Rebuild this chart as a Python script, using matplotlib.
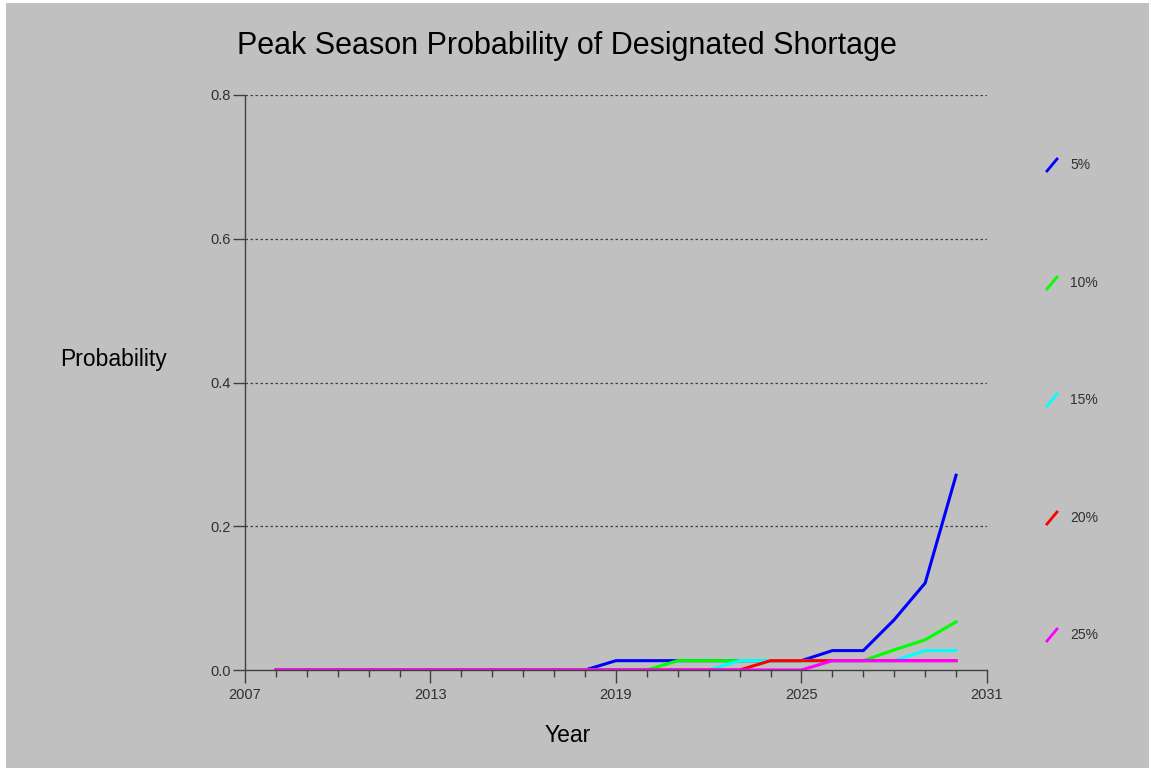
import numpy as np
import matplotlib.pyplot as plt
from matplotlib.lines import Line2D
import matplotlib.patches as mpatches

plt.rcParams['font.family'] = ['Liberation Sans', 'DejaVu Sans']

# data
years = np.arange(2008, 2031)
series_labels = ['5%', '10%', '15%', '20%', '25%']
series_colors = ['#0000ff', '#00ff00', '#00ffff', '#ff0000', '#ff00ff']

p5 = [0, 0, 0, 0, 0, 0, 0, 0, 0, 0, 0, 0.013, 0.013, 0.013, 0.013, 0.013, 0.013, 0.013,
      0.027, 0.027, 0.070, 0.121, 0.271]
p10 = [0, 0, 0, 0, 0, 0, 0, 0, 0, 0, 0, 0, 0, 0.013, 0.013, 0.013, 0.013, 0.013,
       0.013, 0.013, 0.028, 0.042, 0.067]
p15 = [0, 0, 0, 0, 0, 0, 0, 0, 0, 0, 0, 0, 0, 0, 0, 0.013, 0.013, 0.013,
       0.013, 0.013, 0.013, 0.027, 0.027]
p20 = [0, 0, 0, 0, 0, 0, 0, 0, 0, 0, 0, 0, 0, 0, 0, 0, 0.013, 0.013,
       0.013, 0.013, 0.013, 0.013, 0.013]
p25 = [0, 0, 0, 0, 0, 0, 0, 0, 0, 0, 0, 0, 0, 0, 0, 0, 0, 0,
       0.013, 0.013, 0.013, 0.013, 0.013]
all_series = [p5, p10, p15, p20, p25]

bg = '#c0c0c0'
fig = plt.figure(figsize=(11.51, 7.68), dpi=100, facecolor='white')
# gray panel with thin white border at top/left
fig.patches.append(mpatches.Rectangle((6 / 1151, 0), 1143 / 1151, 765 / 768,
                                      transform=fig.transFigure, facecolor=bg,
                                      edgecolor='none', zorder=-10))

ax = fig.add_axes([245 / 1151, 1 - 670 / 768, 742 / 1151, 575 / 768])
ax.set_facecolor(bg)

for vals, col in zip(all_series, series_colors):
    ax.plot(years, vals, color=col, linewidth=2.2, solid_joinstyle='miter')

ax.set_xlim(2007, 2031)
ax.set_ylim(0, 0.8)
ax.set_xticks([2007, 2013, 2019, 2025, 2031])
ax.set_xticks(np.arange(2008, 2032), minor=True)
ax.set_yticks([0.0, 0.2, 0.4, 0.6, 0.8])
ax.set_yticklabels(['0.0', '0.2', '0.4', '0.6', '0.8'])
for y in [0.2, 0.4, 0.6, 0.8]:
    ax.axhline(y, color='#404040', linestyle=(0, (2, 2)), linewidth=0.9, zorder=0)

for s in ['top', 'right']:
    ax.spines[s].set_visible(False)
for s in ['left', 'bottom']:
    ax.spines[s].set_color('#404040')
    ax.spines[s].set_linewidth(1)
ax.tick_params(axis='x', which='major', length=9, width=1, color='#404040',
               labelsize=10.5, labelcolor='#303030', pad=4)
ax.tick_params(axis='x', which='minor', length=5, width=1, color='#404040')
ax.tick_params(axis='y', which='major', length=9, width=1, color='#404040',
               labelsize=10.5, labelcolor='#303030', pad=1)

fig.text(567 / 1151, 1 - 46 / 768, 'Peak Season Probability of Designated Shortage',
         ha='center', va='center', fontsize=22, color='black')
fig.text(114 / 1151, 1 - 359 / 768, 'Probability', ha='center', va='center',
         fontsize=16.5, color='black')
fig.text(568 / 1151, 1 - 735 / 768, 'Year', ha='center', va='center',
         fontsize=16.5, color='black')

# legend: short diagonal strokes with labels
leg_y = [165, 283, 400, 518, 635]
for lab, col, yy in zip(series_labels, series_colors, leg_y):
    fig.add_artist(Line2D([1047 / 1151, 1057 / 1151],
                          [1 - (yy + 6) / 768, 1 - (yy - 6) / 768],
                          transform=fig.transFigure, color=col, linewidth=2))
    fig.text(1070 / 1151, 1 - yy / 768, lab, ha='left', va='center',
             fontsize=10, color='#303030')

fig.savefig('out.png', dpi=100, facecolor=fig.get_facecolor())
